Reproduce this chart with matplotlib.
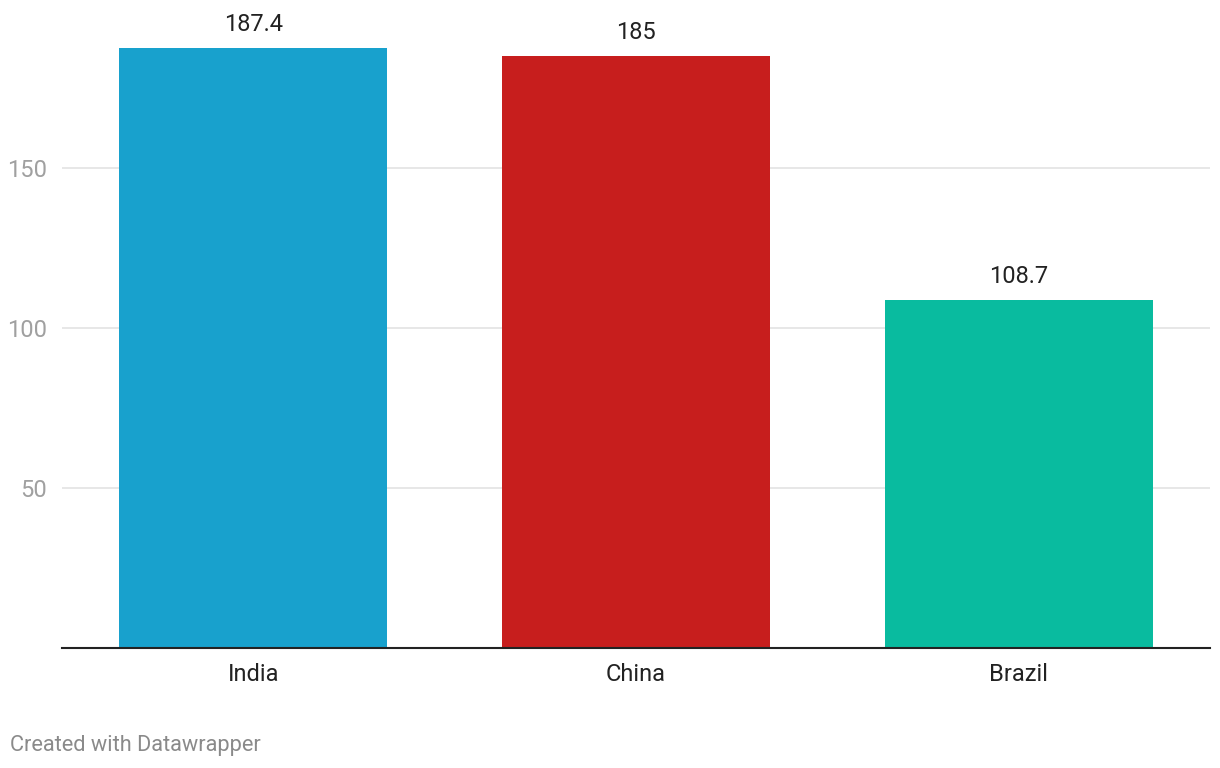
import matplotlib.pyplot as plt

countries = ["India", "China", "Brazil"]
values = [187.4, 185, 108.7]
labels = ["187.4", "185", "108.7"]
colors = ["#18a1cd", "#c71e1d", "#09bb9f"]
yticks = [50, 100, 150]

plt.rcParams['font.family'] = ['Roboto', 'DejaVu Sans']

fig = plt.figure(figsize=(12.2, 7.68), dpi=100)
ax = fig.add_axes([62 / 1220, 120 / 768, 1148 / 1220, 640 / 768])

x = range(len(countries))
ax.bar(x, values, width=0.70, color=colors, zorder=2)
for xi, v, lab in zip(x, values, labels):
    ax.text(xi, v + 3.8, lab, ha='center', va='bottom', fontsize=17, color='#222222')

ax.set_xlim(-0.5, 2.5)
ax.set_ylim(0, 200)
ax.set_yticks(yticks)
ax.set_yticklabels([str(t) for t in yticks], fontsize=17, color='#a0a0a0')
ax.grid(axis='y', color='#e3e3e3', linewidth=1.2, zorder=0)
ax.set_xticks(list(x))
ax.set_xticklabels(countries, fontsize=17, color='#222222')
ax.tick_params(axis='both', length=0)
ax.tick_params(axis='y', pad=11)
ax.tick_params(axis='x', pad=11)
for s in ['top', 'right', 'left']:
    ax.spines[s].set_visible(False)
ax.spines['bottom'].set_color('#222222')
ax.spines['bottom'].set_linewidth(1.5)
ax.spines['bottom'].set_zorder(3)

fig.text(10 / 1220, 1 - 745 / 768, "Created with Datawrapper", fontsize=15.7,
         color='#8a8a8a', ha='left', va='center')

fig.savefig("out.png", dpi=100)
